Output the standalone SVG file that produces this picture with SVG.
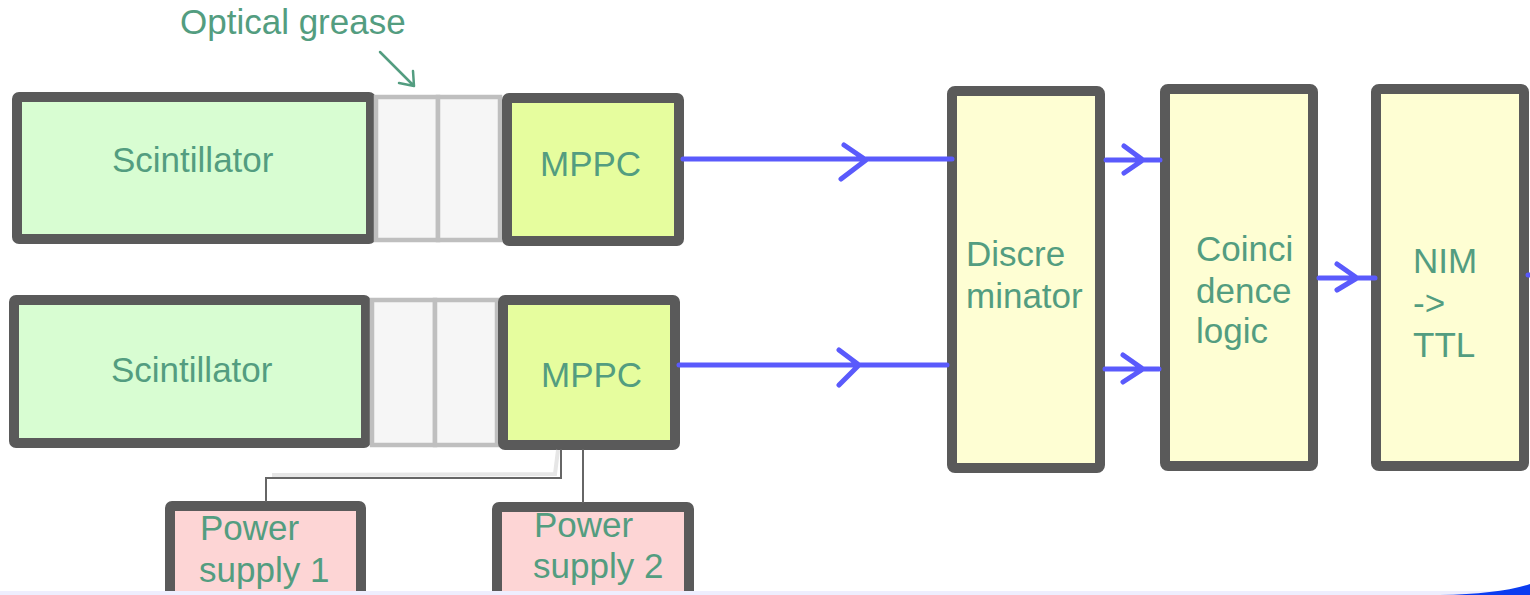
<svg xmlns="http://www.w3.org/2000/svg" width="1530" height="595" viewBox="0 0 1530 595">
<style>
.box{stroke:#5a5a5a;stroke-width:10;stroke-linejoin:round}
.scint{fill:#d8fdd2}
.mppc{fill:#e6fd9e}
.logic{fill:#fefed3}
.power{fill:#fdd5d5}
.grease{fill:#f6f6f6;stroke:#bfbfbf;stroke-width:4.5}
.t{font-family:"Liberation Sans",Arial,sans-serif;font-size:35px;fill:#539d80}
.sig{stroke:#5a5afc;stroke-width:5;fill:none;stroke-linecap:round;stroke-linejoin:round}
.pw{stroke:#666;stroke-width:2;fill:none}
.ghost{stroke:#e6e6e6;stroke-width:4;fill:none}
</style>
<rect width="1530" height="595" fill="#ffffff"/>

<g id="label-grease">
<text class="t" x="180" y="34">Optical grease</text>
<path d="M380 52 L414 86 M399 83 L414 86 L413 71" stroke="#539d80" stroke-width="2.5" fill="none" stroke-linecap="round" stroke-linejoin="round"/>
</g>

<g id="scint1"><rect class="box scint" x="17" y="97" width="354" height="142" rx="2"/><text class="t" x="112" y="172">Scintillator</text></g>
<g id="grease1"><rect class="grease" x="376" y="97" width="62" height="143"/><rect class="grease" x="438" y="97" width="62" height="143"/></g>
<g id="mppc1"><rect class="box mppc" x="507" y="98" width="172" height="143" rx="2"/><text class="t" x="540" y="176">MPPC</text></g>

<g id="scint2"><rect class="box scint" x="14" y="300" width="352" height="143" rx="2"/><text class="t" x="111" y="382">Scintillator</text></g>
<g id="grease2"><rect class="grease" x="372" y="300" width="63" height="145"/><rect class="grease" x="435" y="300" width="62" height="145"/></g>
<g id="mppc2"><rect class="box mppc" x="503" y="300" width="172" height="145" rx="2"/><text class="t" x="541" y="387">MPPC</text></g>

<g id="ps1"><rect class="box power" x="170" y="506" width="191" height="110" rx="2"/><text class="t" x="200" y="540">Power</text><text class="t" x="199" y="582">supply 1</text></g>
<g id="ps2"><rect class="box power" x="497" y="507" width="192" height="110" rx="2"/><text class="t" x="534" y="537">Power</text><text class="t" x="533" y="578">supply 2</text></g>

<g id="disc"><rect class="box logic" x="952" y="91" width="148" height="377" rx="3"/><text class="t" x="966" y="266">Discre</text><text class="t" x="966" y="308">minator</text></g>
<g id="coinc"><rect class="box logic" x="1165" y="89" width="148" height="377" rx="3"/><text class="t" x="1196" y="261">Coinci</text><text class="t" x="1196" y="303">dence</text><text class="t" x="1196" y="343">logic</text></g>
<g id="nim"><rect class="box logic" x="1376" y="89" width="148" height="377" rx="3"/><text class="t" x="1413" y="273">NIM</text><text class="t" x="1413" y="315">-&gt;</text><text class="t" x="1413" y="357">TTL</text></g>

<g id="connectors">
<path class="ghost" d="M558 450 L555 474 L272 475"/>
<path class="pw" d="M561 449 L561 478 L266 478 L266 502"/>
<path class="pw" d="M583 449 L583 503"/>
<path class="sig" d="M683 159 L952 159 M844 145 L866 160 L841 179"/>
<path class="sig" d="M679 365 L947 365 M839 350 L859 365 L839 385"/>
<path class="sig" d="M1106 160 L1160 160 M1124 146 L1143 160 L1124 173"/>
<path class="sig" d="M1105 369 L1159 369 M1123 355 L1143 369 L1123 382"/>
<path class="sig" d="M1319 278 L1375 278 M1337 264 L1357 278 L1337 290"/>
<path class="sig" d="M1528 275 L1532 275"/>
</g>

<rect x="0" y="591" width="1530" height="4" fill="#eeeefe"/>
<path d="M1440 595 Q1500 594 1530 584 L1530 595 Z" fill="#0b3cf0"/>
</svg>
